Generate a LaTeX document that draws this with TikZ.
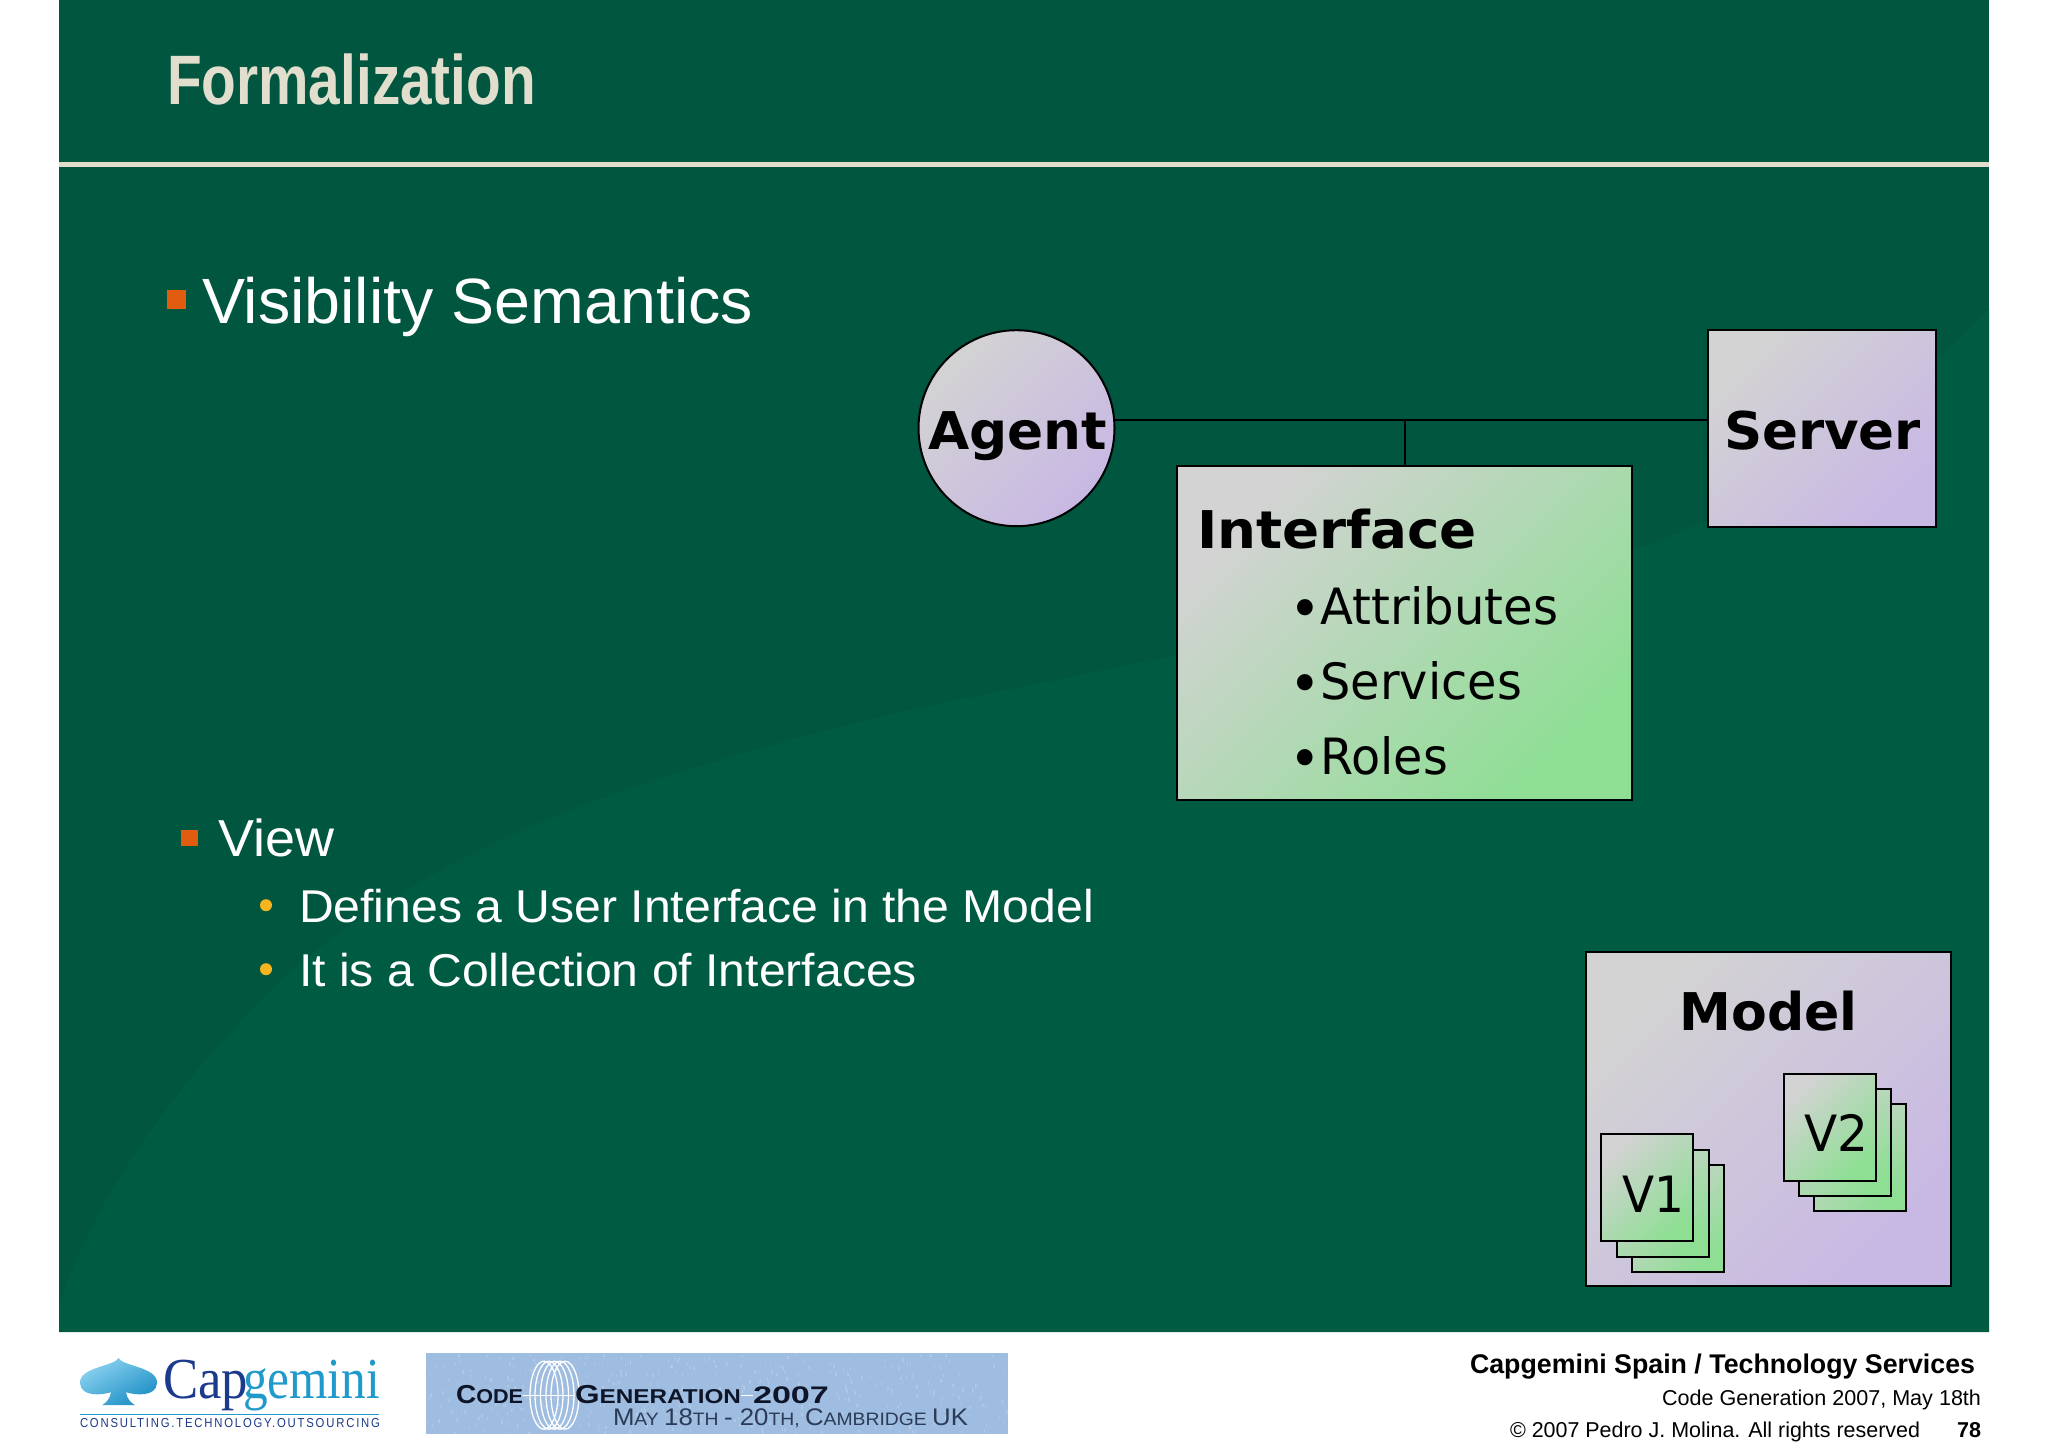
\documentclass[tikz,border=0pt]{standalone}
\usepackage{fontspec}
\usepackage{graphicx}
\setmainfont{Liberation Sans}
\newfontfamily\vfont{DejaVu Sans}
\newfontfamily\timesfont{Liberation Serif}
\newfontfamily\tagfont[LetterSpace=16]{Liberation Sans}
\newcommand\fs[1]{\fontsize{#1}{#1}\selectfont}
\newcommand\fitw[2]{\resizebox{#1pt}{\height}{#2}}
\newcommand\bul{\raisebox{-4pt}{\fs{56}•}\fs{50}}
\definecolor{panelA}{HTML}{00563F}
\definecolor{panelB}{HTML}{005B43}
\definecolor{cream}{HTML}{E2DECE}
\definecolor{orangeb}{HTML}{E25C10}
\definecolor{goldb}{HTML}{F5B51E}
\definecolor{cgray}{HTML}{D3D3D3}
\definecolor{cgreen}{HTML}{8EDE94}
\definecolor{cpurple}{HTML}{C8B8E4}
\definecolor{capdark}{HTML}{1B3A8C}
\definecolor{caplight}{HTML}{1F9ACB}
\definecolor{spadeA}{HTML}{8CD2F0}
\definecolor{spadeB}{HTML}{1C8FC4}
\definecolor{bannerblue}{HTML}{9EBDE0}
\definecolor{bannerink}{HTML}{0E1528}
\definecolor{bannerink2}{HTML}{2B3B58}
\tikzset{
  txt/.style={inner sep=0pt,outer sep=0pt,anchor=base west},
  ctxt/.style={inner sep=0pt,outer sep=0pt,anchor=base},
  purplebox/.style={rectangle,draw=black,line width=2pt,inner sep=0pt,outer sep=0pt,top color=cgray,bottom color=cpurple,shading angle=45},
  greenbox/.style={rectangle,draw=black,line width=2pt,inner sep=0pt,outer sep=0pt,top color=cgray,bottom color=cgreen,shading angle=45},
  conn/.style={draw=black,line width=2pt},
  coilring/.style={draw=white,line width=1.3pt},
}
\begin{document}
\begin{tikzpicture}[x=1pt,y=-1pt]
\useasboundingbox (0,0) rectangle (2048,1447);
\fill[white] (0,0) rectangle (2048,1447);
\begin{scope}[yshift=-1.2pt]
% panel
\fill[panelA] (59,-2) rectangle (1989,1331);
\fill[panelB] (59,1331) -- (59,1302) .. controls (100,1190) and (170,1090) .. (272,988)
  .. controls (350,910) and (500,830) .. (631,787)
  .. controls (720,757) and (850,720) .. (976,695)
  .. controls (1100,670) and (1350,620) .. (1632,549)
  .. controls (1780,500) and (1900,400) .. (1989,307) -- (1989,1331) -- cycle;
\fill[cream] (59,161) rectangle (1989,166);
% title and bullets
\node[txt,text=cream] (title) at (167,103) {\fs{70}\bfseries\fitw{369}{Formalization}};
\fill[orangeb] (167,289) rectangle (186,308);
\node[txt,text=white] (vis) at (202,322) {\fs{64}\fitw{551}{Visibility Semantics}};
\fill[orangeb] (181,829) rectangle (198,845);
\node[txt,text=white] (view) at (218,855) {\fs{52}\fitw{116}{View}};
\fill[goldb] (266,904) circle [radius=6];
\node[txt,text=white] (def) at (299,921) {\fs{46}\fitw{795}{Defines a User Interface in the Model}};
\fill[goldb] (266,968) circle [radius=6];
\node[txt,text=white] (coll) at (299,985) {\fs{46}\fitw{618}{It is a Collection of Interfaces}};
% diagram
\node[purplebox,circle,minimum size=196pt] (agent) at (1016.5,427) {};
\node[purplebox,minimum width=228pt,minimum height=197pt] (server) at (1822,427.5) {};
\node[greenbox,minimum width=455pt,minimum height=334pt] (iface) at (1404.5,632) {};
\coordinate (j) at (1404.5,419);
\draw[conn] (agent.east |- j) -- (j -| server.west);
\draw[conn] (j) -- (iface.north);
\node[ctxt] (agenttxt) at (1017.5,448) {\vfont\bfseries\fs{52}\fitw{179}{Agent}};
\node[ctxt] (servertxt) at (1822.5,448) {\vfont\bfseries\fs{52}\fitw{197}{Server}};
\node[txt] (ifacetxt) at (1197,547) {\vfont\bfseries\fs{52}\fitw{280}{Interface}};
\node[txt] (attr) at (1289,623) {\vfont\fitw{269}{\bul Attributes}};
\node[txt] (serv) at (1289,698) {\vfont\fitw{233}{\bul Services}};
\node[txt] (role) at (1289,773) {\vfont\fitw{159}{\bul Roles}};
% model
\node[purplebox,minimum width=365pt,minimum height=334pt] (model) at (1768.5,1118) {};
\node[ctxt] (modeltxt) at (1768.5,1029) {\vfont\bfseries\fs{52}\fitw{178}{Model}};
\node[greenbox,minimum width=92pt,minimum height=107pt] (v1c) at (1678,1217.5) {};
\node[greenbox,minimum width=92pt,minimum height=107pt] (v1b) at (1662.5,1202) {};
\node[greenbox,minimum width=92pt,minimum height=107pt] (v1a) at (1647,1186.5) {};
\node[txt] (v1t) at (1622,1211) {\vfont\fs{50}\fitw{62}{V1}};
\node[greenbox,minimum width=92pt,minimum height=107pt] (v2c) at (1860,1156.5) {};
\node[greenbox,minimum width=92pt,minimum height=107pt] (v2b) at (1845,1141.5) {};
\node[greenbox,minimum width=92pt,minimum height=107pt] (v2a) at (1829.5,1126) {};
\node[txt] (v2t) at (1804,1150) {\vfont\fs{50}\fitw{64}{V2}};
% footer text
\node[txt] (f1) at (1470,1372) {\fs{27}\bfseries\fitw{505}{Capgemini Spain / Technology Services}};
\node[txt] (f2) at (1662,1404) {\fs{21.5}\fitw{319}{Code Generation 2007, May 18th}};
\node[txt] (f3) at (1510,1436) {\fs{21.5}\fitw{410}{© 2007 Pedro J. Molina. All rights reserved}};
\node[txt] (f4) at (1957,1436) {\fs{21.5}\bfseries\fitw{24}{78}};
% capgemini logo
\path[top color=spadeA,bottom color=spadeB,shading angle=30]
  (118.5,1357) .. controls (123,1365) and (158,1366) .. (157,1382)
  .. controls (156,1396) and (135,1394) .. (126,1391)
  .. controls (127,1397) and (130,1401) .. (135,1404) -- (102,1404)
  .. controls (107,1401) and (110,1397) .. (111,1391)
  .. controls (102,1394) and (81,1396) .. (80,1382)
  .. controls (79,1366) and (114,1365) .. (118.5,1357) -- cycle;
\node[txt,text=capdark] (cap) at (163,1397) {\timesfont\fs{58}\fitw{85}{Cap}};
\node[txt,text=caplight] (gem) at (243,1397) {\timesfont\fs{58}\fitw{137}{gemini}};
\draw[caplight,line width=1.2pt] (80,1413) -- (379,1413);
\node[txt,text=capdark] (tag) at (80,1426) {\tagfont\fs{13}\fitw{300}{CONSULTING.TECHNOLOGY.OUTSOURCING}};
% banner
\fill[bannerblue] (426,1352) rectangle (1008,1433);
\pgfmathsetseed{7}
\begin{scope}
\clip (426,1352) rectangle (1008,1433);
\foreach \i in {1,...,420} {
  \fill[white,opacity=.16] ({426+582*rnd},{1352+81*rnd}) rectangle ++(1.4,3.2);
}
\end{scope}
\draw[coilring] (544,1394) ellipse [x radius=14,y radius=34];
\draw[coilring] (549,1394) ellipse [x radius=14,y radius=34];
\draw[coilring] (554.5,1394) ellipse [x radius=14,y radius=34];
\draw[coilring] (560,1394) ellipse [x radius=14,y radius=34];
\draw[coilring] (565,1394) ellipse [x radius=14,y radius=34];
\node[txt,text=bannerink] (code) at (456,1402) {\bfseries\fitw{67}{\fs{26}C\fs{20}ODE}};
\node[txt,text=bannerink] (gen) at (575,1402) {\bfseries\fitw{166}{\fs{26}G\fs{20}ENERATION}};
\node[txt,text=bannerink] (yr) at (753,1402) {\bfseries\fitw{76}{\fs{24}2007}};
\draw[coilring] (code.base east |- 0,1394) -- (gen.base west |- 0,1394);
\draw[coilring] (gen.base east |- 0,1394) -- (yr.base west |- 0,1394);
\node[txt,text=bannerink2] (may) at (613,1424) {\fitw{355}{\fs{24}M\fs{18}AY \fs{24}18\fs{18}TH \fs{24}- 20\fs{18}TH, \fs{24}C\fs{18}AMBRIDGE \fs{24}UK}};
\end{scope}
\end{tikzpicture}
\end{document}
